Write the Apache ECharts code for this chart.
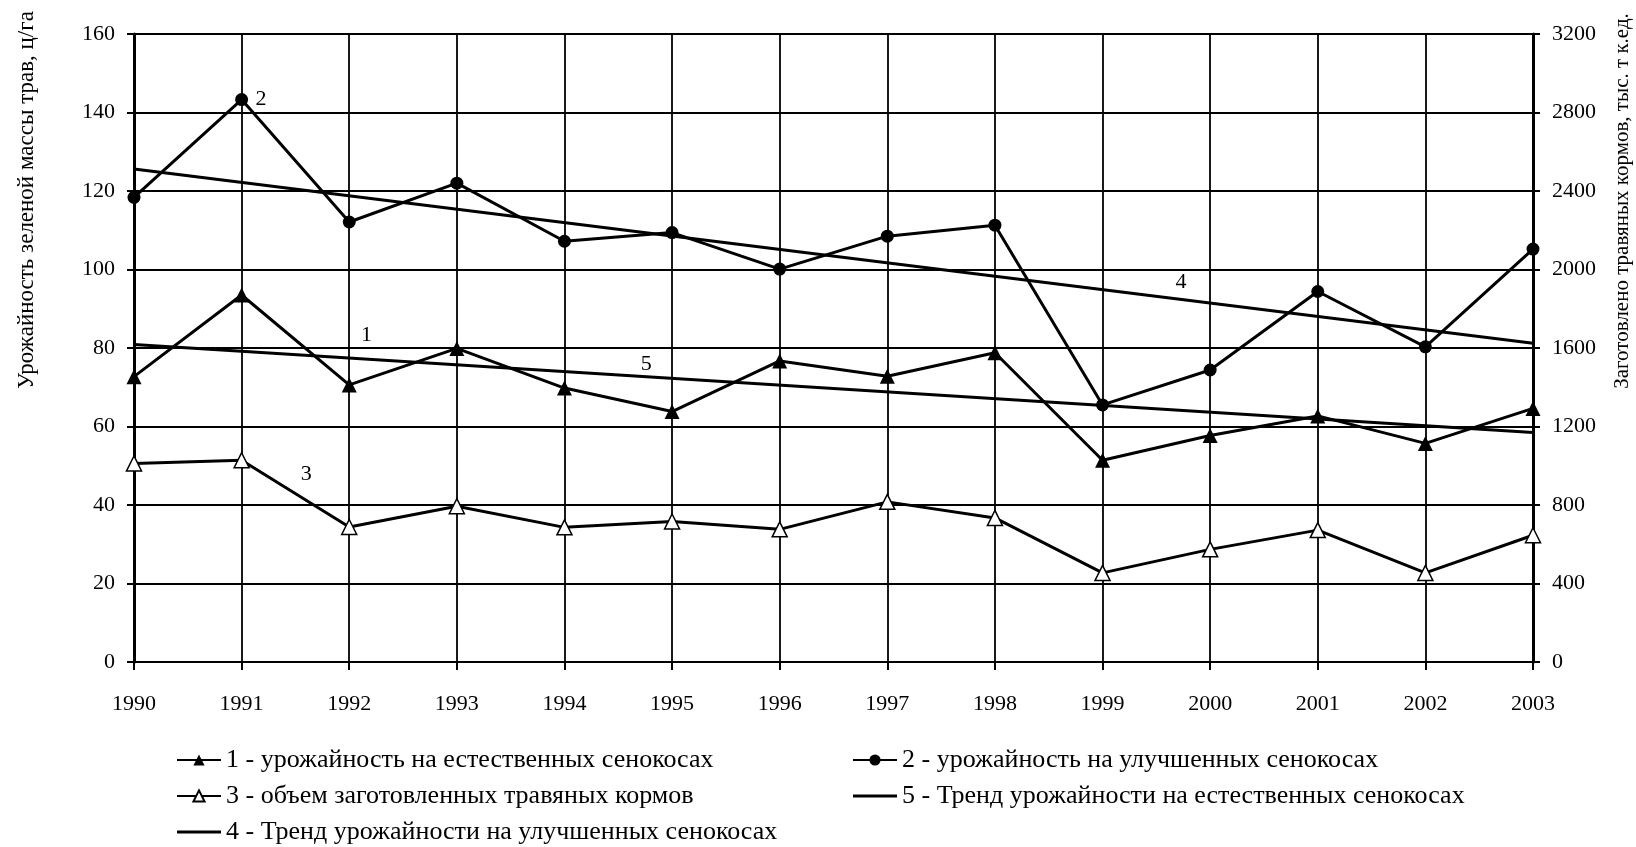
<!DOCTYPE html>
<html>
<head>
<meta charset="utf-8">
<script src="https://cdn.jsdelivr.net/npm/echarts@6/dist/echarts.min.js"></script>
<style>
  html, body { margin: 0; padding: 0; background: #fff; }
  #chart { width: 1636px; height: 847px; }
</style>
</head>
<body>
<div id="chart"></div>
<script>
// Годы наблюдений
const years = [1990, 1991, 1992, 1993, 1994, 1995, 1996, 1997, 1998, 1999, 2000, 2001, 2002, 2003];

// 1 - урожайность на естественных сенокосах, ц/га
const yieldNatural = [72.7, 93.5, 70.6, 79.9, 69.8, 63.8, 76.7, 72.8, 78.8, 51.4, 57.7, 62.7, 55.7, 64.6];
// 2 - урожайность на улучшенных сенокосах, ц/га
const yieldImproved = [118.4, 143.3, 112.1, 122.0, 107.2, 109.4, 100.1, 108.5, 111.3, 65.5, 74.4, 94.4, 80.3, 105.2];
// 3 - объем заготовленных травяных кормов, тыс. т к.ед.
const feedVolume = [1012, 1028, 688, 794, 686, 716, 676, 816, 734, 454, 574, 672, 454, 646];
// Линейные тренды: значения на начало и конец периода
const trendImprovedEnds = [125.6, 81.2];
const trendNaturalEnds = [80.9, 58.5];

// Подписи рядов: [текст, год, значение]
const tagNatural = ['1', 1992.16, 83.3];
const tagImproved = ['2', 1991.18, 143.3];
const tagVolume = ['3', 1991.6, 958];
const tagTrendImproved = ['4', 1999.73, 96.8];
const tagTrendNatural = ['5', 1994.76, 75.9];

// Оси
const leftTicks = { min: 0, max: 160, interval: 20 };
const rightTicks = { min: 0, max: 3200, interval: 400 };

const names = {
  s1: '1 - урожайность на естественных сенокосах',
  s2: '2 - урожайность на улучшенных сенокосах',
  s3: '3 - объем заготовленных травяных кормов',
  s4: '4 - Тренд урожайности на улучшенных сенокосах',
  s5: '5 - Тренд урожайности на естественных сенокосах'
};

const FONT = '"Liberation Serif", "Times New Roman", serif';
const INK = '#000';
// значок тренда в легенде: сплошная линия без маркера
const LINE_ICON = 'path://M0 0H44V3H0Z';

const pairs = (vals) => years.map((y, i) => [y, vals[i]]);
const ends = (e) => [[years[0], e[0]], [years[years.length - 1], e[1]]];

function tag(t) {
  return {
    silent: true,
    symbol: 'circle',
    symbolSize: 1,
    itemStyle: { color: 'rgba(0,0,0,0)' },
    label: {
      show: true, position: 'inside', formatter: t[0],
      color: INK, fontFamily: FONT, fontSize: 22
    },
    data: [{ coord: [t[1], t[2]] }]
  };
}

const chart = echarts.init(document.getElementById('chart'), null, { renderer: 'canvas' });

const lineBase = {
  type: 'line',
  lineStyle: { color: INK, width: 3 },
  emphasis: { disabled: true },
  animation: false,
  z: 3
};

const legendText = { color: INK, fontFamily: FONT, fontSize: 26, lineHeight: 28 };

chart.setOption({
  backgroundColor: '#fff',
  animation: false,
  textStyle: { fontFamily: FONT, color: INK },
  grid: { left: 134, right: 103, top: 34, bottom: 185, containLabel: false },
  xAxis: {
    type: 'value',
    min: years[0], max: years[years.length - 1], interval: 1,
    axisLine: { show: true, onZero: false, lineStyle: { color: INK, width: 2 } },
    axisTick: { show: true, inside: false, length: 8, lineStyle: { color: INK, width: 2 } },
    axisLabel: { color: INK, fontFamily: FONT, fontSize: 22, margin: 31, formatter: v => String(v) },
    splitLine: { show: true, lineStyle: { color: INK, width: 1.8 } }
  },
  yAxis: [
    {
      type: 'value', position: 'left',
      min: leftTicks.min, max: leftTicks.max, interval: leftTicks.interval,
      axisLine: { show: true, onZero: false, lineStyle: { color: INK, width: 3 } },
      axisTick: { show: true, length: 7, lineStyle: { color: INK, width: 2 } },
      axisLabel: { color: INK, fontFamily: FONT, fontSize: 22, margin: 19, formatter: v => String(v) },
      splitLine: { show: true, lineStyle: { color: INK, width: 1.8 } }
    },
    {
      type: 'value', position: 'right',
      min: rightTicks.min, max: rightTicks.max, interval: rightTicks.interval,
      axisLine: { show: true, onZero: false, lineStyle: { color: INK, width: 3 } },
      axisTick: { show: true, length: 7, lineStyle: { color: INK, width: 2 } },
      axisLabel: { color: INK, fontFamily: FONT, fontSize: 22, margin: 19, formatter: v => String(v) },
      splitLine: { show: false }
    }
  ],
  legend: [
    {
      orient: 'vertical', left: 176, top: 746, padding: 0,
      itemWidth: 44, itemHeight: 14, itemGap: 8,
      selectedMode: false,
      textStyle: legendText,
      data: [names.s1, names.s3, { name: names.s4, icon: LINE_ICON }]
    },
    {
      orient: 'vertical', left: 852, top: 746, padding: 0,
      itemWidth: 44, itemHeight: 14, itemGap: 8,
      selectedMode: false,
      textStyle: legendText,
      data: [names.s2, { name: names.s5, icon: LINE_ICON }]
    }
  ],
  graphic: [
    {
      type: 'text', silent: true,
      x: 27, y: 200, rotation: Math.PI / 2,
      style: { text: 'Урожайность зеленой массы трав, ц/га', fill: INK, font: '23px ' + FONT, align: 'center', verticalAlign: 'middle' }
    },
    {
      type: 'text', silent: true,
      x: 1622, y: 201, rotation: Math.PI / 2,
      style: { text: 'Заготовлено травяных кормов, тыс. т к.ед.', fill: INK, font: '21px ' + FONT, align: 'center', verticalAlign: 'middle' }
    }
  ],
  series: [
    Object.assign({}, lineBase, {
      name: names.s1, yAxisIndex: 0,
      data: pairs(yieldNatural),
      symbol: 'triangle', symbolSize: 15,
      itemStyle: { color: INK },
      markPoint: tag(tagNatural)
    }),
    Object.assign({}, lineBase, {
      name: names.s2, yAxisIndex: 0,
      data: pairs(yieldImproved),
      symbol: 'circle', symbolSize: 13,
      itemStyle: { color: INK },
      markPoint: tag(tagImproved)
    }),
    Object.assign({}, lineBase, {
      name: names.s3, yAxisIndex: 1,
      data: pairs(feedVolume),
      symbol: 'triangle', symbolSize: 15,
      itemStyle: { color: '#fff', borderColor: INK, borderWidth: 1.5 },
      markPoint: tag(tagVolume)
    }),
    Object.assign({}, lineBase, {
      name: names.s4, yAxisIndex: 0,
      data: ends(trendImprovedEnds),
      symbol: 'none', showSymbol: false,
      itemStyle: { color: INK },
      markPoint: tag(tagTrendImproved)
    }),
    Object.assign({}, lineBase, {
      name: names.s5, yAxisIndex: 0,
      data: ends(trendNaturalEnds),
      symbol: 'none', showSymbol: false,
      itemStyle: { color: INK },
      markPoint: tag(tagTrendNatural)
    })
  ]
});
</script>
</body>
</html>
